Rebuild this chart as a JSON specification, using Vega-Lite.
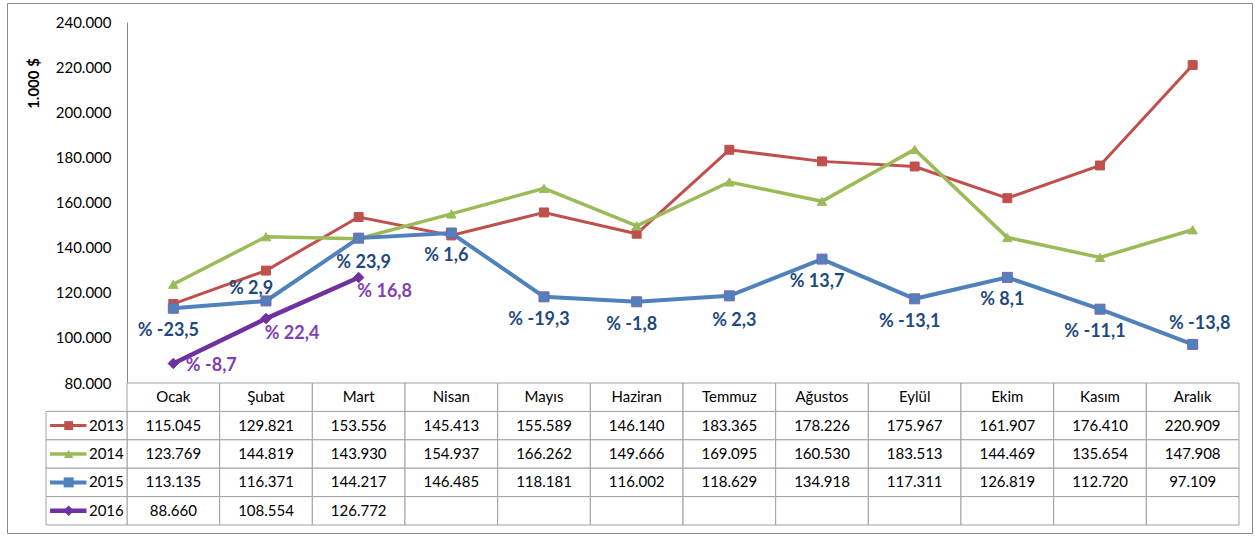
{
  "$schema": "https://vega.github.io/schema/vega-lite/v6.json",
  "width": 1245,
  "height": 530,
  "autosize": {"type": "none"},
  "padding": {"left": 7, "top": 3, "right": 3, "bottom": 3},
  "background": "white",
  "config": {
    "view": {"stroke": "#8c8c8c", "strokeWidth": 1},
    "locale": {"number": {"decimal": ",", "thousands": ".", "grouping": [3], "currency": ["", ""]}},
    "text": {"font": "Lato"}
  },
  "datasets": {
    "d": [
      {"m": "Ocak", "y": "2013", "v": 115045}, {"m": "Şubat", "y": "2013", "v": 129821}, {"m": "Mart", "y": "2013", "v": 153556}, {"m": "Nisan", "y": "2013", "v": 145413}, {"m": "Mayıs", "y": "2013", "v": 155589}, {"m": "Haziran", "y": "2013", "v": 146140}, {"m": "Temmuz", "y": "2013", "v": 183365}, {"m": "Ağustos", "y": "2013", "v": 178226}, {"m": "Eylül", "y": "2013", "v": 175967}, {"m": "Ekim", "y": "2013", "v": 161907}, {"m": "Kasım", "y": "2013", "v": 176410}, {"m": "Aralık", "y": "2013", "v": 220909},
      {"m": "Ocak", "y": "2014", "v": 123769}, {"m": "Şubat", "y": "2014", "v": 144819}, {"m": "Mart", "y": "2014", "v": 143930}, {"m": "Nisan", "y": "2014", "v": 154937}, {"m": "Mayıs", "y": "2014", "v": 166262}, {"m": "Haziran", "y": "2014", "v": 149666}, {"m": "Temmuz", "y": "2014", "v": 169095}, {"m": "Ağustos", "y": "2014", "v": 160530}, {"m": "Eylül", "y": "2014", "v": 183513}, {"m": "Ekim", "y": "2014", "v": 144469}, {"m": "Kasım", "y": "2014", "v": 135654}, {"m": "Aralık", "y": "2014", "v": 147908},
      {"m": "Ocak", "y": "2015", "v": 113135, "p": "% -23,5"}, {"m": "Şubat", "y": "2015", "v": 116371, "p": "% 2,9"}, {"m": "Mart", "y": "2015", "v": 144217, "p": "% 23,9"}, {"m": "Nisan", "y": "2015", "v": 146485, "p": "% 1,6"}, {"m": "Mayıs", "y": "2015", "v": 118181, "p": "% -19,3"}, {"m": "Haziran", "y": "2015", "v": 116002, "p": "% -1,8"}, {"m": "Temmuz", "y": "2015", "v": 118629, "p": "% 2,3"}, {"m": "Ağustos", "y": "2015", "v": 134918, "p": "% 13,7"}, {"m": "Eylül", "y": "2015", "v": 117311, "p": "% -13,1"}, {"m": "Ekim", "y": "2015", "v": 126819, "p": "% 8,1"}, {"m": "Kasım", "y": "2015", "v": 112720, "p": "% -11,1"}, {"m": "Aralık", "y": "2015", "v": 97109, "p": "% -13,8"},
      {"m": "Ocak", "y": "2016", "v": 88660, "p": "% -8,7"}, {"m": "Şubat", "y": "2016", "v": 108554, "p": "% 22,4"}, {"m": "Mart", "y": "2016", "v": 126772, "p": "% 16,8"}, {"m": "Nisan", "y": "2016", "v": null}, {"m": "Mayıs", "y": "2016", "v": null}, {"m": "Haziran", "y": "2016", "v": null}, {"m": "Temmuz", "y": "2016", "v": null}, {"m": "Ağustos", "y": "2016", "v": null}, {"m": "Eylül", "y": "2016", "v": null}, {"m": "Ekim", "y": "2016", "v": null}, {"m": "Kasım", "y": "2016", "v": null}, {"m": "Aralık", "y": "2016", "v": null}
    ]
  },
  "data": {"name": "d"},
  "resolve": {"scale": {"x": "independent", "y": "independent"}},
  "layer": [
    {
      "mark": {"type": "rect", "fill": "white", "stroke": "#a0a0a0", "strokeWidth": 1},
      "encoding": {
        "x": {"field": "m", "type": "nominal", "scale": {"domain": ["Ocak","Şubat","Mart","Nisan","Mayıs","Haziran","Temmuz","Ağustos","Eylül","Ekim","Kasım","Aralık"], "range": [120, 1232], "paddingInner": 0, "paddingOuter": 0}, "axis": null},
        "y": {"field": "y", "type": "nominal", "scale": {"domain": ["h","2013","2014","2015","2016"], "range": [380, 522], "paddingInner": 0, "paddingOuter": 0}, "axis": null}
      }
    },
    {
      "transform": [{"filter": {"field": "y", "equal": "2013"}}],
      "mark": {"type": "rect", "fill": "white", "stroke": "#a0a0a0", "strokeWidth": 1},
      "encoding": {
        "x": {"field": "m", "type": "nominal", "scale": {"domain": ["Ocak","Şubat","Mart","Nisan","Mayıs","Haziran","Temmuz","Ağustos","Eylül","Ekim","Kasım","Aralık"], "range": [120, 1232], "paddingInner": 0, "paddingOuter": 0}, "axis": null},
        "y": {"datum": "h", "type": "nominal", "scale": {"domain": ["h","2013","2014","2015","2016"], "range": [380, 522], "paddingInner": 0, "paddingOuter": 0}, "axis": null}
      }
    },
    {
      "transform": [{"filter": {"field": "m", "equal": "Ocak"}}],
      "mark": {"type": "rect", "fill": "white", "stroke": "#a0a0a0", "strokeWidth": 1},
      "encoding": {
        "x": {"datum": 0, "type": "quantitative", "scale": {"domain": [0, 1], "range": [39, 120]}, "axis": null},
        "x2": {"datum": 1},
        "y": {"field": "y", "type": "nominal", "scale": {"domain": ["h","2013","2014","2015","2016"], "range": [380, 522], "paddingInner": 0, "paddingOuter": 0}, "axis": null}
      }
    },
    {
      "transform": [{"filter": {"field": "y", "equal": "2013"}}],
      "mark": {"type": "text", "fontSize": 15, "color": "#000000", "baseline": "middle"},
      "encoding": {
        "x": {"field": "m", "type": "nominal", "scale": {"domain": ["Ocak","Şubat","Mart","Nisan","Mayıs","Haziran","Temmuz","Ağustos","Eylül","Ekim","Kasım","Aralık"], "range": [120, 1232], "paddingInner": 0, "paddingOuter": 0}, "axis": null},
        "y": {"datum": "h", "type": "nominal", "scale": {"domain": ["h","2013","2014","2015","2016"], "range": [380, 522], "paddingInner": 0, "paddingOuter": 0}, "axis": null},
        "text": {"field": "m"}
      }
    },
    {
      "transform": [{"filter": "isValid(datum.v)"}],
      "mark": {"type": "text", "fontSize": 15, "color": "#000000", "baseline": "middle"},
      "encoding": {
        "x": {"field": "m", "type": "nominal", "scale": {"domain": ["Ocak","Şubat","Mart","Nisan","Mayıs","Haziran","Temmuz","Ağustos","Eylül","Ekim","Kasım","Aralık"], "range": [120, 1232], "paddingInner": 0, "paddingOuter": 0}, "axis": null},
        "y": {"field": "y", "type": "nominal", "scale": {"domain": ["h","2013","2014","2015","2016"], "range": [380, 522], "paddingInner": 0, "paddingOuter": 0}, "axis": null},
        "text": {"field": "v", "type": "quantitative", "format": ",.0f"}
      }
    },
    {
      "transform": [{"filter": {"field": "m", "equal": "Ocak"}}],
      "mark": {"type": "text", "fontSize": 15, "color": "#000000", "baseline": "middle", "align": "right"},
      "encoding": {
        "x": {"datum": 0.96, "type": "quantitative", "scale": {"domain": [0, 1], "range": [39, 120]}, "axis": null},
        "y": {"field": "y", "type": "nominal", "scale": {"domain": ["h","2013","2014","2015","2016"], "range": [380, 522], "paddingInner": 0, "paddingOuter": 0}, "axis": null},
        "text": {"field": "y"}
      }
    },
    {
      "transform": [{"filter": {"field": "m", "equal": "Ocak"}}],
      "mark": {"type": "rule"},
      "encoding": {
        "x": {"datum": 0.05, "type": "quantitative", "scale": {"domain": [0, 1], "range": [39, 120]}, "axis": null},
        "x2": {"datum": 0.5},
        "y": {"field": "y", "type": "nominal", "scale": {"domain": ["h","2013","2014","2015","2016"], "range": [380, 522], "paddingInner": 0, "paddingOuter": 0}, "axis": null},
        "color": {"field": "y", "type": "nominal", "scale": {"domain": ["2013","2014","2015","2016"], "range": ["#c0504d","#9bbb59","#4f81bd","#7030a0"]}, "legend": null},
        "strokeWidth": {"field": "y", "type": "nominal", "scale": {"domain": ["2013","2014","2015","2016"], "range": [3, 4.5, 5, 3]}, "legend": null}
      }
    },
    {
      "transform": [{"filter": {"field": "m", "equal": "Ocak"}}],
      "mark": {"type": "point", "filled": true, "opacity": 1},
      "encoding": {
        "x": {"datum": 0.28, "type": "quantitative", "scale": {"domain": [0, 1], "range": [39, 120]}, "axis": null},
        "y": {"field": "y", "type": "nominal", "scale": {"domain": ["h","2013","2014","2015","2016"], "range": [380, 522], "paddingInner": 0, "paddingOuter": 0}, "axis": null},
        "color": {"field": "y", "type": "nominal", "scale": {"domain": ["2013","2014","2015","2016"], "range": ["#c0504d","#9bbb59","#4f81bd","#7030a0"]}, "legend": null},
        "shape": {"field": "y", "type": "nominal", "scale": {"domain": ["2013","2014","2015","2016"], "range": ["square","triangle-up","square","diamond"]}, "legend": null},
        "size": {"field": "y", "type": "nominal", "scale": {"domain": ["2013","2014","2015","2016"], "range": [80, 110, 100, 80]}, "legend": null}
      }
    },
    {
      "mark": {"type": "line"},
      "encoding": {
        "x": {"field": "m", "type": "nominal", "scale": {"domain": ["Ocak","Şubat","Mart","Nisan","Mayıs","Haziran","Temmuz","Ağustos","Eylül","Ekim","Kasım","Aralık"], "range": [120, 1232], "paddingInner": 0, "paddingOuter": 0}, "axis": null},
        "y": {"field": "v", "type": "quantitative", "scale": {"domain": [80000, 240000], "range": [380, 19], "zero": false, "nice": false},
          "axis": {"orient": "left", "offset": -120, "values": [80000, 100000, 120000, 140000, 160000, 180000, 200000, 220000, 240000], "format": ",.0f", "ticks": false, "grid": false, "domainColor": "#868686", "domainWidth": 1, "labelFont": "Lato", "labelFontSize": 15, "labelColor": "#000000", "labelPadding": 16, "title": "1.000 $", "titleFont": "Lato", "titleFontSize": 15, "titleFontWeight": "bold", "titleColor": "#000000", "titleX": -94, "titleY": 80, "titleAngle": -90, "titleAlign": "center", "titleBaseline": "middle"}},
        "color": {"field": "y", "type": "nominal", "scale": {"domain": ["2013","2014","2015","2016"], "range": ["#c0504d","#9bbb59","#4f81bd","#7030a0"]}, "legend": null},
        "strokeWidth": {"field": "y", "type": "nominal", "scale": {"domain": ["2013","2014","2015","2016"], "range": [3, 4.5, 5, 3]}, "legend": null},
        "order": {"value": null}
      }
    },
    {
      "transform": [{"filter": "isValid(datum.v)"}],
      "mark": {"type": "point", "filled": true, "opacity": 1, "strokeWidth": 1},
      "encoding": {
        "x": {"field": "m", "type": "nominal", "scale": {"domain": ["Ocak","Şubat","Mart","Nisan","Mayıs","Haziran","Temmuz","Ağustos","Eylül","Ekim","Kasım","Aralık"], "range": [120, 1232], "paddingInner": 0, "paddingOuter": 0}, "axis": null},
        "y": {"field": "v", "type": "quantitative", "scale": {"domain": [80000, 240000], "range": [380, 19], "zero": false, "nice": false}, "axis": null},
        "fill": {"field": "y", "type": "nominal", "scale": {"domain": ["2013","2014","2015","2016"], "range": ["#c0504d","#9bbb59","#4f81bd","#7030a0"]}, "legend": null},
        "stroke": {"field": "y", "type": "nominal", "scale": {"domain": ["2013","2014","2015","2016"], "range": ["#c0504d","#9bbb59","#8064a2","#7030a0"]}, "legend": null},
        "shape": {"field": "y", "type": "nominal", "scale": {"domain": ["2013","2014","2015","2016"], "range": ["square","triangle-up","square","diamond"]}, "legend": null},
        "size": {"field": "y", "type": "nominal", "scale": {"domain": ["2013","2014","2015","2016"], "range": [90, 200, 115, 90]}, "legend": null}
      }
    },
    {
      "transform": [{"filter": {"field": "y", "equal": "2015"}}, {"filter": {"field": "m", "oneOf": ["Ocak","Nisan","Mayıs","Haziran","Ağustos","Eylül","Ekim","Kasım"]}}],
      "mark": {"type": "text", "fontSize": 18, "fontWeight": "bold", "color": "#1f4a7d", "baseline": "middle", "dx": -5, "dy": 23},
      "encoding": {
        "x": {"field": "m", "type": "nominal", "scale": {"domain": ["Ocak","Şubat","Mart","Nisan","Mayıs","Haziran","Temmuz","Ağustos","Eylül","Ekim","Kasım","Aralık"], "range": [120, 1232], "paddingInner": 0, "paddingOuter": 0}, "axis": null},
        "y": {"field": "v", "type": "quantitative", "scale": {"domain": [80000, 240000], "range": [380, 19], "zero": false, "nice": false}, "axis": null},
        "text": {"field": "p"}
      }
    },
    {
      "transform": [{"filter": {"field": "y", "equal": "2015"}}, {"filter": {"field": "m", "oneOf": ["Mart","Temmuz"]}}],
      "mark": {"type": "text", "fontSize": 18, "fontWeight": "bold", "color": "#1f4a7d", "baseline": "middle", "dx": 5, "dy": 25},
      "encoding": {
        "x": {"field": "m", "type": "nominal", "scale": {"domain": ["Ocak","Şubat","Mart","Nisan","Mayıs","Haziran","Temmuz","Ağustos","Eylül","Ekim","Kasım","Aralık"], "range": [120, 1232], "paddingInner": 0, "paddingOuter": 0}, "axis": null},
        "y": {"field": "v", "type": "quantitative", "scale": {"domain": [80000, 240000], "range": [380, 19], "zero": false, "nice": false}, "axis": null},
        "text": {"field": "p"}
      }
    },
    {
      "transform": [{"filter": {"field": "y", "equal": "2015"}}, {"filter": {"field": "m", "equal": "Şubat"}}],
      "mark": {"type": "text", "fontSize": 18, "fontWeight": "bold", "color": "#1f4a7d", "baseline": "middle", "dx": -15, "dy": -12},
      "encoding": {
        "x": {"field": "m", "type": "nominal", "scale": {"domain": ["Ocak","Şubat","Mart","Nisan","Mayıs","Haziran","Temmuz","Ağustos","Eylül","Ekim","Kasım","Aralık"], "range": [120, 1232], "paddingInner": 0, "paddingOuter": 0}, "axis": null},
        "y": {"field": "v", "type": "quantitative", "scale": {"domain": [80000, 240000], "range": [380, 19], "zero": false, "nice": false}, "axis": null},
        "text": {"field": "p"}
      }
    },
    {
      "transform": [{"filter": {"field": "y", "equal": "2015"}}, {"filter": {"field": "m", "equal": "Aralık"}}],
      "mark": {"type": "text", "fontSize": 18, "fontWeight": "bold", "color": "#1f4a7d", "baseline": "middle", "dx": 7, "dy": -20},
      "encoding": {
        "x": {"field": "m", "type": "nominal", "scale": {"domain": ["Ocak","Şubat","Mart","Nisan","Mayıs","Haziran","Temmuz","Ağustos","Eylül","Ekim","Kasım","Aralık"], "range": [120, 1232], "paddingInner": 0, "paddingOuter": 0}, "axis": null},
        "y": {"field": "v", "type": "quantitative", "scale": {"domain": [80000, 240000], "range": [380, 19], "zero": false, "nice": false}, "axis": null},
        "text": {"field": "p"}
      }
    },
    {
      "transform": [{"filter": {"field": "y", "equal": "2016"}}, {"filter": {"field": "m", "equal": "Ocak"}}],
      "mark": {"type": "text", "fontSize": 18, "fontWeight": "bold", "color": "#7f3fb5", "baseline": "middle", "dx": 38, "dy": 3},
      "encoding": {
        "x": {"field": "m", "type": "nominal", "scale": {"domain": ["Ocak","Şubat","Mart","Nisan","Mayıs","Haziran","Temmuz","Ağustos","Eylül","Ekim","Kasım","Aralık"], "range": [120, 1232], "paddingInner": 0, "paddingOuter": 0}, "axis": null},
        "y": {"field": "v", "type": "quantitative", "scale": {"domain": [80000, 240000], "range": [380, 19], "zero": false, "nice": false}, "axis": null},
        "text": {"field": "p"}
      }
    },
    {
      "transform": [{"filter": {"field": "y", "equal": "2016"}}, {"filter": {"field": "m", "oneOf": ["Şubat","Mart"]}}],
      "mark": {"type": "text", "fontSize": 18, "fontWeight": "bold", "color": "#7f3fb5", "baseline": "middle", "dx": 26, "dy": 15},
      "encoding": {
        "x": {"field": "m", "type": "nominal", "scale": {"domain": ["Ocak","Şubat","Mart","Nisan","Mayıs","Haziran","Temmuz","Ağustos","Eylül","Ekim","Kasım","Aralık"], "range": [120, 1232], "paddingInner": 0, "paddingOuter": 0}, "axis": null},
        "y": {"field": "v", "type": "quantitative", "scale": {"domain": [80000, 240000], "range": [380, 19], "zero": false, "nice": false}, "axis": null},
        "text": {"field": "p"}
      }
    }
  ]
}
